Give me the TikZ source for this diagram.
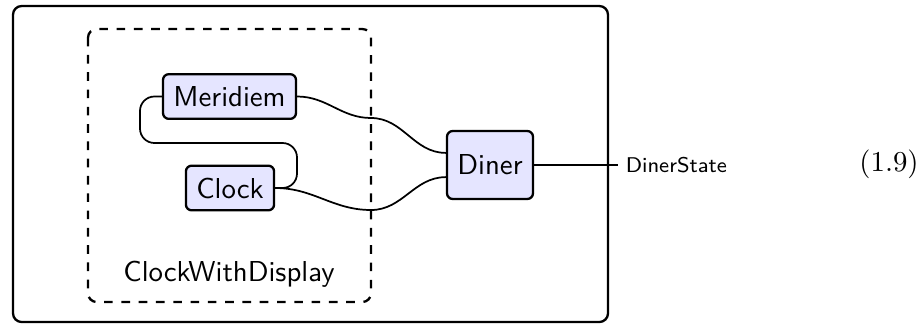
\documentclass[tikz,border=0pt]{standalone}
\usepackage{tikz}
\usetikzlibrary{calc,positioning}
\tikzset{%
	block/.style    = {draw, rectangle, rounded corners=2pt, thick, fill=blue!10, inner xsep=3.6pt, minimum height=15.5pt, font=\sffamily},
	frame/.style    = {draw, rectangle, rounded corners=3pt, thick},
	wire/.style     = {semithick},
	waypoint/.style = {coordinate},
}
\begin{document}
\begin{tikzpicture}[x=0.347pt, y=-0.347pt]
	\useasboundingbox (0,0) rectangle (922,324);
	% frames
	\draw[frame] (13,6) rectangle (608,322);
	\draw[frame, dashed] (88,29) rectangle (371,302);
	\node[font=\sffamily] (cwd) at (229,274) {ClockWithDisplay};
	% boxes
	\node[block] (meridiem) at (229.5,96.5) {Meridiem};
	\node[block] (clock) at (230,188) {Clock};
	\node[block, minimum height=23.6pt] (diner) at (490,165) {Diner};
	% ports on the dashed frame
	\node[waypoint] (p1) at (371,118) {};
	\node[waypoint] (p2) at (371,210) {};
	\node[waypoint] (loopR) at (297,143) {};
	\node[waypoint] (loopL) at (140,143) {};
	\node[waypoint] (ds) at (618,165) {};
	% wires
	\draw[wire] (meridiem.east) to[out=0,in=180] (p1) to[out=0,in=180] ([yshift=4.2pt]diner.west);
	\draw[wire] (clock.east) to[out=0,in=180] (p2) to[out=0,in=180] ([yshift=-4.2pt]diner.west);
	\draw[wire, rounded corners=5pt] (clock.east) -| (loopR) -- (loopL) |- (meridiem.west);
	\draw[wire] (diner.east) -- (ds);
	\node[anchor=west, inner xsep=2.5pt, font=\sffamily\fontsize{7.4}{9}\selectfont] (dsl) at (ds) {DinerState};
	\node (eq) at (889,164) {(1.9)};
\end{tikzpicture}
\end{document}
